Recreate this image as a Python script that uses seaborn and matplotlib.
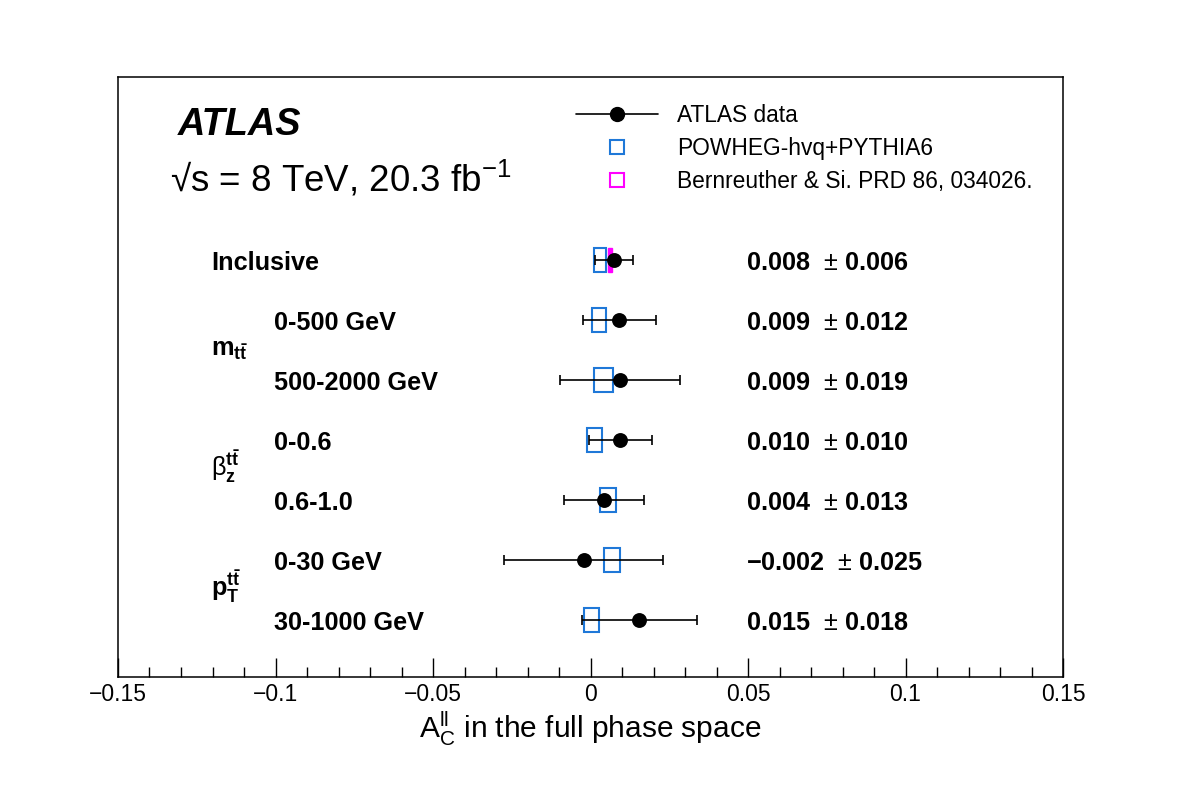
import matplotlib
matplotlib.use("Agg")
import matplotlib.pyplot as plt
import seaborn as sns
import pandas as pd
from matplotlib.lines import Line2D
from matplotlib.ticker import MultipleLocator

# 数据
row_labels = ["Inclusive", "0-500 GeV", "500-2000 GeV", "0-0.6", "0.6-1.0", "0-30 GeV", "30-1000 GeV"]
row_pos = [7, 6, 5, 4, 3, 2, 1]
data_val = [0.0074, 0.0092, 0.0094, 0.0095, 0.0043, -0.0022, 0.0155]
data_err = [0.0060, 0.0117, 0.0190, 0.0100, 0.0126, 0.0253, 0.0183]
value_text = ["0.008", "0.009", "0.009", "0.010", "0.004", "-0.002", "0.015"]
error_text = ["0.006", "0.012", "0.019", "0.010", "0.013", "0.025", "0.018"]
powheg_val = [0.0030, 0.0027, 0.0042, 0.0012, 0.0056, 0.0069, 0.0004]
powheg_err = [0.0018, 0.0023, 0.0030, 0.0024, 0.0026, 0.0026, 0.0024]
theory_pos = [7]
theory_val = [0.0062]
theory_err = [0.0005]
group_labels = [r"$\mathbf{m}_{\mathbf{t\bar{t}}}$",
                r"β$_{\mathbf{z}}^{\mathbf{t\bar{t}}}$",
                r"$\mathbf{p}_{\mathbf{T}}^{\mathbf{t\bar{t}}}$"]
group_pos = [5.5, 3.55, 1.55]

sns.set_theme(style="ticks")
plt.rcParams["font.family"] = ["Liberation Sans", "DejaVu Sans"]
plt.rcParams["mathtext.fontset"] = "custom"
plt.rcParams["mathtext.rm"] = "Liberation Sans"
plt.rcParams["mathtext.it"] = "Liberation Sans:italic"
plt.rcParams["mathtext.bf"] = "Liberation Sans:bold"
plt.rcParams["axes.unicode_minus"] = True
plt.rcParams["text.color"] = "black"
plt.rcParams["axes.labelcolor"] = "black"
plt.rcParams["xtick.color"] = "black"
plt.rcParams["xtick.labelcolor"] = "black"

fig = plt.figure(figsize=(11.82, 7.98), dpi=100)
ax = fig.add_axes([118 / 1182, 121 / 798, 945 / 1182, 600 / 798])

blue = "#1f78d8"
magenta = "#ff00ff"
box_h = 0.41

# POWHEG 方框
ax.barh(row_pos, [2 * e for e in powheg_err],
        left=[v - e for v, e in zip(powheg_val, powheg_err)],
        height=box_h, fill=False, edgecolor=blue, linewidth=1.5, zorder=2)
# 理论方框
ax.barh(theory_pos, [2 * e for e in theory_err],
        left=[v - e for v, e in zip(theory_val, theory_err)],
        height=box_h, color=magenta, edgecolor=magenta, linewidth=1.0, zorder=2)

# ATLAS 数据
ax.errorbar(data_val, row_pos, xerr=data_err, fmt="none", ecolor="black",
            elinewidth=1.2, capsize=3.5, capthick=1.2, zorder=3)
df = pd.DataFrame({"x": data_val, "y": row_pos})
sns.scatterplot(data=df, x="x", y="y", ax=ax, color="black", s=115,
                edgecolor="black", linewidth=0, zorder=4)

ax.set_xlim(-0.15, 0.15)
ax.set_ylim(0.05, 10.05)
ax.xaxis.set_major_locator(MultipleLocator(0.05))
ax.xaxis.set_minor_locator(MultipleLocator(0.01))
ax.xaxis.set_major_formatter(plt.FuncFormatter(
    lambda v, p: "0" if abs(v) < 1e-9 else ("%g" % round(v, 3)).replace("-", "\u2212")))
ax.tick_params(axis="x", which="major", direction="in", length=14, width=1.0,
               labelsize=16.5, pad=4, top=False)
ax.tick_params(axis="x", which="minor", direction="in", length=7, width=1.0, top=False)
ax.set_yticks([])
for s in ax.spines.values():
    s.set_linewidth(1.1)
    s.set_color("black")
ax.set_xlabel(r"A$_{\mathregular{C}}^{\mathregular{ll}}$ in the full phase space", fontsize=21.5, labelpad=3)
ax.set_ylabel("")

# 行标签和数值
for i, (lab, y) in enumerate(zip(row_labels, row_pos)):
    xl = -0.1205 if i == 0 else -0.1005
    ax.text(xl, y - 0.05, lab, fontsize=18.2, fontweight="bold", ha="left", va="center")
    ax.text(0.0495, y - 0.05, r"$\mathbf{%s}$  $\pm$ $\mathbf{%s}$" % (value_text[i], error_text[i]),
            fontsize=18.2, ha="left", va="center")

for lab, y in zip(group_labels, group_pos):
    ax.text(-0.1205, y, lab, fontsize=18.2, ha="left", va="center")

# ATLAS 标签
ax.text(-0.131, 9.25, "ATLAS", fontsize=27.3, fontweight="bold", fontstyle="italic",
        ha="left", va="center")
ax.text(-0.1335, 8.35, "\u221as = 8 TeV, 20.3 fb$^{\\mathregular{-1}}$", fontsize=26.5,
        ha="left", va="center")

# 图例
handles = [
    Line2D([], [], color="black", marker="o", markersize=10, linewidth=1.2),
    Line2D([], [], color=blue, marker="s", markersize=10.5, markerfacecolor="none",
           linestyle="none", markeredgewidth=1.5),
    Line2D([], [], color=magenta, marker="s", markersize=10.5, markerfacecolor="none",
           linestyle="none", markeredgewidth=1.5),
]
labels = ["ATLAS data", "POWHEG-hvq+PYTHIA6", "Bernreuther & Si. PRD 86, 034026."]
leg = ax.legend(handles, labels, loc="upper left", bbox_to_anchor=(0.4625, 0.99),
                frameon=False, fontsize=16.4, handlelength=3.6, handletextpad=0.85,
                labelspacing=0.45)

fig.savefig("out.png", dpi=100)
